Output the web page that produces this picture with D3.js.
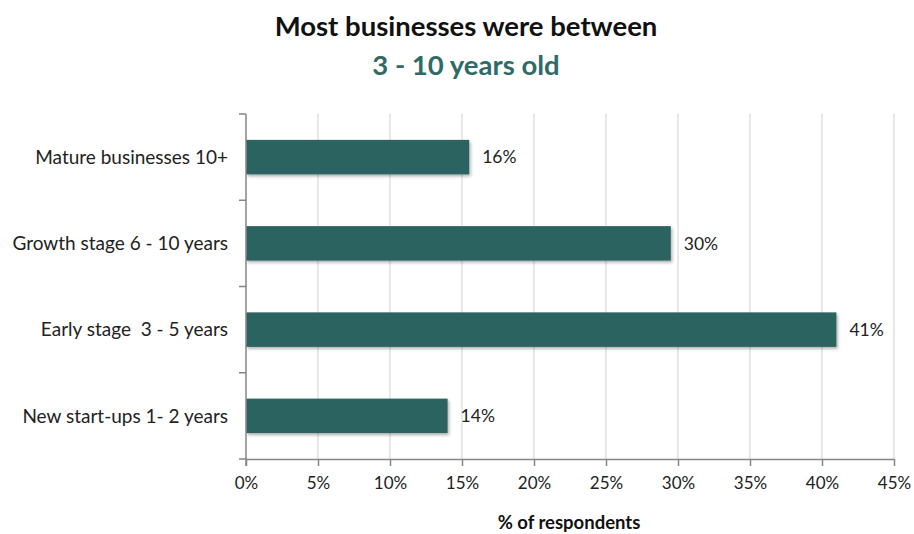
<!DOCTYPE html>
<html><head><meta charset="utf-8">
<script src="https://cdn.jsdelivr.net/npm/d3@7"></script>
<style>body{margin:0;background:#fff}svg{display:block}text{font-family:Lato,"Open Sans",sans-serif;white-space:pre}</style>
</head><body><svg id="c" width="914" height="534"></svg>
<script>
const categories = ["Mature businesses 10+", "Growth stage 6 - 10 years", "Early stage  3 - 5 years", "New start-ups 1- 2 years"];
const values = [15.5, 29.5, 41, 14];
const valueLabels = ["16%", "30%", "41%", "14%"];
const xTicks = [0, 5, 10, 15, 20, 25, 30, 35, 40, 45];
const titleLine1 = "Most businesses were between";
const titleLine2 = "3 - 10 years old";
const xTitle = "% of respondents";

const svg = d3.select("#c");
const m = {left: 246, right: 894, top: 114, bottom: 459};
const x = d3.scaleLinear().domain([0, 45]).range([m.left, m.right]);
const y = d3.scaleBand().domain(categories).range([m.top, m.bottom]).paddingInner(0.6).paddingOuter(0.3);

const defs = svg.append("defs");
const f = defs.append("filter").attr("id", "sh").attr("x", "-5%").attr("y", "-30%").attr("width", "110%").attr("height", "170%");
f.append("feDropShadow").attr("dx", 1.5).attr("dy", 2).attr("stdDeviation", 1.5).attr("flood-color", "#000").attr("flood-opacity", 0.3);

// gridlines
svg.append("g").selectAll("line").data(xTicks.slice(1)).join("line")
  .attr("x1", d => x(d)).attr("x2", d => x(d)).attr("y1", m.top).attr("y2", m.bottom)
  .attr("stroke", "#d9d9d9").attr("stroke-width", 1.2);

// bars
svg.append("g").selectAll("rect").data(categories).join("rect")
  .attr("x", x(0)).attr("y", (d) => y(d)).attr("height", y.bandwidth())
  .attr("width", (d, i) => x(values[i]) - x(0))
  .attr("fill", "#2b6361").attr("filter", "url(#sh)");

// value labels
svg.append("g").selectAll("text").data(categories).join("text")
  .attr("x", (d, i) => x(values[i]) + 13).attr("y", d => y(d) + y.bandwidth() / 2)
  .attr("dy", "0.35em").attr("font-size", 17.5).attr("fill", "#222")
  .text((d, i) => valueLabels[i]);

// x axis
const xa = svg.append("g").attr("transform", `translate(0,${m.bottom})`)
  .call(d3.axisBottom(x).tickValues(xTicks).tickFormat(d => d + "%").tickSize(7).tickSizeOuter(0));
xa.select(".domain").attr("stroke", "#868686").attr("stroke-width", 1.5);
xa.selectAll(".tick line").attr("stroke", "#868686").attr("stroke-width", 1.5);
xa.selectAll(".tick text").attr("font-size", 17).attr("fill", "#222").attr("dy", "1.2em").attr("font-family", "Lato");

// y axis
const bounds = [m.top].concat(categories.map((d, i) => m.top + (i + 1) * (m.bottom - m.top) / categories.length));
const ya = svg.append("g");
ya.append("line").attr("x1", m.left).attr("x2", m.left).attr("y1", m.top).attr("y2", m.bottom + 7)
  .attr("stroke", "#868686").attr("stroke-width", 1.5);
ya.selectAll("line.t").data(bounds).join("line").attr("class", "t")
  .attr("x1", m.left - 7).attr("x2", m.left).attr("y1", d => d).attr("y2", d => d)
  .attr("stroke", "#868686").attr("stroke-width", 1.5);
ya.selectAll("text").data(categories).join("text")
  .attr("x", 228).attr("y", d => y(d) + y.bandwidth() / 2).attr("dy", "0.35em")
  .attr("text-anchor", "end").attr("font-size", 19).attr("fill", "#222").text(d => d);

// titles
svg.append("text").attr("x", 466).attr("y", 36).attr("text-anchor", "middle")
  .attr("font-size", 27.5).attr("font-weight", "bold").attr("fill", "#111").text(titleLine1);
svg.append("text").attr("x", 466).attr("y", 75).attr("text-anchor", "middle")
  .attr("font-size", 27.5).attr("font-weight", "bold").attr("fill", "#2e6b66").text(titleLine2);
svg.append("text").attr("x", 569).attr("y", 529).attr("text-anchor", "middle")
  .attr("font-size", 18.5).attr("font-weight", "bold").attr("fill", "#111").text(xTitle);
</script></body></html>
